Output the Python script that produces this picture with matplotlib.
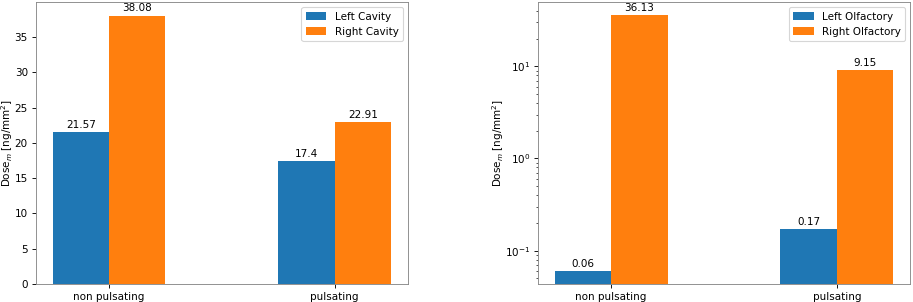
import matplotlib
matplotlib.use('Agg')
import matplotlib.pyplot as plt
import numpy as np

categories = ['non pulsating', 'pulsating']
left_cavity = [21.57, 17.4]
right_cavity = [38.08, 22.91]
left_olfactory = [0.06, 0.17]
right_olfactory = [36.13, 9.15]

plt.rcParams['font.size'] = 9.4

# rendered at 80 dpi so text comes out at the reference's size
fig = plt.figure(figsize=(913 / 80, 302 / 80), dpi=80)
ax1 = fig.add_axes([0.039, 0.060, 0.408, 0.933])
ax2 = fig.add_axes([0.589, 0.060, 0.408, 0.933])

x = np.arange(len(categories))
w = 0.25


def draw(ax, left, right, names, label_x):
    b1 = ax.bar(x - w / 2, left, w, label=names[0])
    b2 = ax.bar(x + w / 2, right, w, label=names[1])
    ax.bar_label(b1, labels=[str(v) for v in left], padding=2)
    ax.bar_label(b2, labels=[str(v) for v in right], padding=2)
    ax.set_xticks(x)
    ax.set_xticklabels(categories)
    ax.set_ylabel('Dose$_m$ [ng/mm$^2$]')
    ax.yaxis.set_label_coords(label_x, 0.5)
    ax.legend(loc='upper right')
    for s in ax.spines.values():
        s.set_edgecolor('#888888')


draw(ax1, left_cavity, right_cavity, ['Left Cavity', 'Right Cavity'], -0.056)
ax2.set_yscale('log')
draw(ax2, left_olfactory, right_olfactory, ['Left Olfactory', 'Right Olfactory'], -0.086)

fig.savefig('out.png', dpi=80)
